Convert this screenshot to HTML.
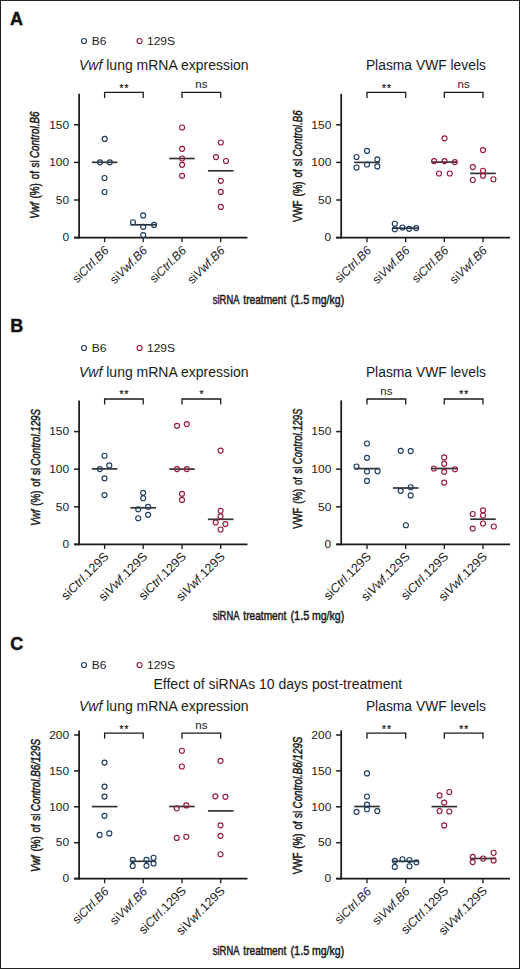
<!DOCTYPE html>
<html><head><meta charset="utf-8"><title>Figure</title>
<style>
html,body{margin:0;padding:0;background:#fff;}
body{width:520px;height:969px;overflow:hidden;}
svg{display:block;font-family:"Liberation Sans", sans-serif;}
</style></head><body>
<svg width="520" height="969" viewBox="0 0 520 969" font-family="'Liberation Sans', sans-serif">
<rect x="0.5" y="0.5" width="519" height="968" fill="#fff" stroke="#222" stroke-width="1"/>
<text x="10" y="25" font-size="18" font-weight="bold" fill="#111" stroke="#111" stroke-width="0.45">A</text>
<text x="10.3" y="332.1" font-size="18" font-weight="bold" fill="#111" stroke="#111" stroke-width="0.45">B</text>
<text x="10.3" y="649.6" font-size="18" font-weight="bold" fill="#111" stroke="#111" stroke-width="0.45">C</text>
<circle cx="84" cy="41" r="2.5" fill="none" stroke="#1c3c60" stroke-width="1.15"/>
<text x="91.7" y="44.7" font-size="11.4" fill="#1a1a1a" textLength="14.64" lengthAdjust="spacingAndGlyphs">B6</text>
<circle cx="139.6" cy="41" r="2.5" fill="none" stroke="#961b3a" stroke-width="1.15"/>
<text x="147" y="44.7" font-size="11.4" fill="#1a1a1a" textLength="27.96" lengthAdjust="spacingAndGlyphs">129S</text>
<text x="79.0" y="70.2" font-size="14" fill="#1a1a1a"><tspan font-style="italic">Vwf</tspan> lung mRNA expression</text>
<text x="365.9" y="70.2" font-size="13.85" fill="#1a1a1a">Plasma VWF levels</text>
<line x1="79.1" y1="93.8" x2="79.1" y2="238.5" stroke="#1a1a1a" stroke-width="1.75"/>
<line x1="74.1" y1="237.6" x2="79.1" y2="237.6" stroke="#1a1a1a" stroke-width="1.5"/>
<text x="69.20" y="241.30" font-size="11.4" text-anchor="end" fill="#1a1a1a" textLength="6.66" lengthAdjust="spacingAndGlyphs">0</text>
<line x1="74.1" y1="200.0" x2="79.1" y2="200.0" stroke="#1a1a1a" stroke-width="1.5"/>
<text x="69.20" y="203.70" font-size="11.4" text-anchor="end" fill="#1a1a1a" textLength="13.31" lengthAdjust="spacingAndGlyphs">50</text>
<line x1="74.1" y1="162.39999999999998" x2="79.1" y2="162.39999999999998" stroke="#1a1a1a" stroke-width="1.5"/>
<text x="69.20" y="166.10" font-size="11.4" text-anchor="end" fill="#1a1a1a" textLength="19.97" lengthAdjust="spacingAndGlyphs">100</text>
<line x1="74.1" y1="124.79999999999998" x2="79.1" y2="124.79999999999998" stroke="#1a1a1a" stroke-width="1.5"/>
<text x="69.20" y="128.50" font-size="11.4" text-anchor="end" fill="#1a1a1a" textLength="19.97" lengthAdjust="spacingAndGlyphs">150</text>
<line x1="74.1" y1="237.6" x2="247.5" y2="237.6" stroke="#1a1a1a" stroke-width="1.75"/>
<line x1="104.6" y1="237.6" x2="104.6" y2="242.2" stroke="#1a1a1a" stroke-width="1.3"/>
<line x1="143.2" y1="237.6" x2="143.2" y2="242.2" stroke="#1a1a1a" stroke-width="1.3"/>
<line x1="182.0" y1="237.6" x2="182.0" y2="242.2" stroke="#1a1a1a" stroke-width="1.3"/>
<line x1="220.7" y1="237.6" x2="220.7" y2="242.2" stroke="#1a1a1a" stroke-width="1.3"/>
<line x1="91.8" y1="162.3" x2="117.39999999999999" y2="162.3" stroke="#333" stroke-width="1.7"/>
<line x1="130.39999999999998" y1="224.8" x2="156.0" y2="224.8" stroke="#333" stroke-width="1.7"/>
<line x1="169.2" y1="158.5" x2="194.8" y2="158.5" stroke="#333" stroke-width="1.7"/>
<line x1="207.89999999999998" y1="170.8" x2="233.5" y2="170.8" stroke="#333" stroke-width="1.7"/>
<circle cx="104.7" cy="138.9" r="2.5" fill="none" stroke="#1c3c60" stroke-width="1.15"/>
<circle cx="100" cy="162.3" r="2.5" fill="none" stroke="#1c3c60" stroke-width="1.15"/>
<circle cx="109.8" cy="162.3" r="2.5" fill="none" stroke="#1c3c60" stroke-width="1.15"/>
<circle cx="104.5" cy="178" r="2.5" fill="none" stroke="#1c3c60" stroke-width="1.15"/>
<circle cx="104.5" cy="192" r="2.5" fill="none" stroke="#1c3c60" stroke-width="1.15"/>
<circle cx="143.2" cy="215.4" r="2.5" fill="none" stroke="#1c3c60" stroke-width="1.15"/>
<circle cx="133" cy="222.2" r="2.5" fill="none" stroke="#1c3c60" stroke-width="1.15"/>
<circle cx="143.2" cy="226.8" r="2.5" fill="none" stroke="#1c3c60" stroke-width="1.15"/>
<circle cx="154.1" cy="224.9" r="2.5" fill="none" stroke="#1c3c60" stroke-width="1.15"/>
<circle cx="143.2" cy="235.1" r="2.5" fill="none" stroke="#1c3c60" stroke-width="1.15"/>
<circle cx="182.1" cy="127.5" r="2.5" fill="none" stroke="#961b3a" stroke-width="1.15"/>
<circle cx="182.1" cy="148.8" r="2.5" fill="none" stroke="#961b3a" stroke-width="1.15"/>
<circle cx="182.1" cy="158.5" r="2.5" fill="none" stroke="#961b3a" stroke-width="1.15"/>
<circle cx="182.1" cy="164.8" r="2.5" fill="none" stroke="#961b3a" stroke-width="1.15"/>
<circle cx="182.1" cy="175.8" r="2.5" fill="none" stroke="#961b3a" stroke-width="1.15"/>
<circle cx="220.8" cy="142.5" r="2.5" fill="none" stroke="#961b3a" stroke-width="1.15"/>
<circle cx="216" cy="157.1" r="2.5" fill="none" stroke="#961b3a" stroke-width="1.15"/>
<circle cx="226" cy="161" r="2.5" fill="none" stroke="#961b3a" stroke-width="1.15"/>
<circle cx="220.8" cy="180.8" r="2.5" fill="none" stroke="#961b3a" stroke-width="1.15"/>
<circle cx="220.8" cy="191.9" r="2.5" fill="none" stroke="#961b3a" stroke-width="1.15"/>
<circle cx="220.8" cy="206.9" r="2.5" fill="none" stroke="#961b3a" stroke-width="1.15"/>
<path d="M104.6,97.89999999999999 V92.3 H143.2 V97.89999999999999" fill="none" stroke="#1a1a1a" stroke-width="1.3" stroke-linejoin="miter" stroke-linecap="butt"/>
<text x="124.44999999999999" y="91.6" font-size="10" text-anchor="middle" fill="#1a1a1a" stroke="#1a1a1a" stroke-width="0.25" letter-spacing="1.1">**</text>
<path d="M182.0,97.89999999999999 V92.3 H220.7 V97.89999999999999" fill="none" stroke="#1a1a1a" stroke-width="1.3" stroke-linejoin="miter" stroke-linecap="butt"/>
<text x="201.35" y="88.0" font-size="11.5" text-anchor="middle" fill="#1a1a1a">ns</text>
<text x="109.5" y="251.29999999999998" font-size="12.1" text-anchor="end" fill="#1a1a1a" transform="rotate(-45 109.5 251.29999999999998)">si<tspan font-style="italic">Ctrl.B6</tspan></text>
<text x="148.1" y="251.29999999999998" font-size="12.1" text-anchor="end" fill="#1a1a1a" transform="rotate(-45 148.1 251.29999999999998)">si<tspan font-style="italic">Vwf.B6</tspan></text>
<text x="186.9" y="251.29999999999998" font-size="12.1" text-anchor="end" fill="#1a1a1a" transform="rotate(-45 186.9 251.29999999999998)">si<tspan font-style="italic">Ctrl.B6</tspan></text>
<text x="225.6" y="251.29999999999998" font-size="12.1" text-anchor="end" fill="#1a1a1a" transform="rotate(-45 225.6 251.29999999999998)">si<tspan font-style="italic">Vwf.B6</tspan></text>
<g transform="translate(39.4 218.8) rotate(-90)" fill="#1a1a1a"><text x="0.00" y="0" font-size="13.4" font-style="italic" textLength="16.44" lengthAdjust="spacingAndGlyphs" stroke="#1a1a1a" stroke-width="0.5">Vwf</text><text x="20.34" y="0" font-size="13.4" textLength="15.33" lengthAdjust="spacingAndGlyphs" stroke="#1a1a1a" stroke-width="0.5">(%)</text><text x="39.57" y="0" font-size="13.4" textLength="8.22" lengthAdjust="spacingAndGlyphs" stroke="#1a1a1a" stroke-width="0.5">of</text><text x="51.29" y="0" font-size="13.4" textLength="7.12" lengthAdjust="spacingAndGlyphs" stroke="#1a1a1a" stroke-width="0.5">si</text><text x="60.81" y="0" font-size="13.4" font-style="italic" textLength="46.59" lengthAdjust="spacingAndGlyphs" stroke="#1a1a1a" stroke-width="0.5">Control.B6</text></g>
<line x1="341.2" y1="93.8" x2="341.2" y2="238.5" stroke="#1a1a1a" stroke-width="1.75"/>
<line x1="336.2" y1="237.6" x2="341.2" y2="237.6" stroke="#1a1a1a" stroke-width="1.5"/>
<text x="331.30" y="241.30" font-size="11.4" text-anchor="end" fill="#1a1a1a" textLength="6.66" lengthAdjust="spacingAndGlyphs">0</text>
<line x1="336.2" y1="200.0" x2="341.2" y2="200.0" stroke="#1a1a1a" stroke-width="1.5"/>
<text x="331.30" y="203.70" font-size="11.4" text-anchor="end" fill="#1a1a1a" textLength="13.31" lengthAdjust="spacingAndGlyphs">50</text>
<line x1="336.2" y1="162.39999999999998" x2="341.2" y2="162.39999999999998" stroke="#1a1a1a" stroke-width="1.5"/>
<text x="331.30" y="166.10" font-size="11.4" text-anchor="end" fill="#1a1a1a" textLength="19.97" lengthAdjust="spacingAndGlyphs">100</text>
<line x1="336.2" y1="124.79999999999998" x2="341.2" y2="124.79999999999998" stroke="#1a1a1a" stroke-width="1.5"/>
<text x="331.30" y="128.50" font-size="11.4" text-anchor="end" fill="#1a1a1a" textLength="19.97" lengthAdjust="spacingAndGlyphs">150</text>
<line x1="336.2" y1="237.6" x2="510" y2="237.6" stroke="#1a1a1a" stroke-width="1.75"/>
<line x1="367.0" y1="237.6" x2="367.0" y2="242.2" stroke="#1a1a1a" stroke-width="1.3"/>
<line x1="405.7" y1="237.6" x2="405.7" y2="242.2" stroke="#1a1a1a" stroke-width="1.3"/>
<line x1="444.3" y1="237.6" x2="444.3" y2="242.2" stroke="#1a1a1a" stroke-width="1.3"/>
<line x1="483.0" y1="237.6" x2="483.0" y2="242.2" stroke="#1a1a1a" stroke-width="1.3"/>
<line x1="354.2" y1="162.4" x2="379.8" y2="162.4" stroke="#333" stroke-width="1.7"/>
<line x1="392.9" y1="228.2" x2="418.5" y2="228.2" stroke="#333" stroke-width="1.7"/>
<line x1="431.5" y1="162.1" x2="457.1" y2="162.1" stroke="#333" stroke-width="1.7"/>
<line x1="470.2" y1="173.4" x2="495.8" y2="173.4" stroke="#333" stroke-width="1.7"/>
<circle cx="367.0" cy="150.9" r="2.5" fill="none" stroke="#1c3c60" stroke-width="1.15"/>
<circle cx="356.5" cy="157.0" r="2.5" fill="none" stroke="#1c3c60" stroke-width="1.15"/>
<circle cx="377.3" cy="159.3" r="2.5" fill="none" stroke="#1c3c60" stroke-width="1.15"/>
<circle cx="367.0" cy="164.5" r="2.5" fill="none" stroke="#1c3c60" stroke-width="1.15"/>
<circle cx="356.5" cy="167.5" r="2.5" fill="none" stroke="#1c3c60" stroke-width="1.15"/>
<circle cx="377.3" cy="166.4" r="2.5" fill="none" stroke="#1c3c60" stroke-width="1.15"/>
<circle cx="394.8" cy="223.7" r="2.5" fill="none" stroke="#1c3c60" stroke-width="1.15"/>
<circle cx="394.8" cy="229.2" r="2.5" fill="none" stroke="#1c3c60" stroke-width="1.15"/>
<circle cx="402.5" cy="227.5" r="2.5" fill="none" stroke="#1c3c60" stroke-width="1.15"/>
<circle cx="409.1" cy="228.8" r="2.5" fill="none" stroke="#1c3c60" stroke-width="1.15"/>
<circle cx="416.2" cy="228.1" r="2.5" fill="none" stroke="#1c3c60" stroke-width="1.15"/>
<circle cx="444.5" cy="138.3" r="2.5" fill="none" stroke="#961b3a" stroke-width="1.15"/>
<circle cx="434.1" cy="161.1" r="2.5" fill="none" stroke="#961b3a" stroke-width="1.15"/>
<circle cx="444.5" cy="161.1" r="2.5" fill="none" stroke="#961b3a" stroke-width="1.15"/>
<circle cx="454.8" cy="162.1" r="2.5" fill="none" stroke="#961b3a" stroke-width="1.15"/>
<circle cx="439.0" cy="173.5" r="2.5" fill="none" stroke="#961b3a" stroke-width="1.15"/>
<circle cx="449.8" cy="173.5" r="2.5" fill="none" stroke="#961b3a" stroke-width="1.15"/>
<circle cx="483.0" cy="150.1" r="2.5" fill="none" stroke="#961b3a" stroke-width="1.15"/>
<circle cx="472.8" cy="167.1" r="2.5" fill="none" stroke="#961b3a" stroke-width="1.15"/>
<circle cx="483.0" cy="170.7" r="2.5" fill="none" stroke="#961b3a" stroke-width="1.15"/>
<circle cx="483.0" cy="175.8" r="2.5" fill="none" stroke="#961b3a" stroke-width="1.15"/>
<circle cx="472.8" cy="180" r="2.5" fill="none" stroke="#961b3a" stroke-width="1.15"/>
<circle cx="493.4" cy="179.2" r="2.5" fill="none" stroke="#961b3a" stroke-width="1.15"/>
<path d="M367.0,97.89999999999999 V92.3 H405.7 V97.89999999999999" fill="none" stroke="#1a1a1a" stroke-width="1.3" stroke-linejoin="miter" stroke-linecap="butt"/>
<text x="386.90000000000003" y="91.6" font-size="10" text-anchor="middle" fill="#1a1a1a" stroke="#1a1a1a" stroke-width="0.25" letter-spacing="1.1">**</text>
<path d="M444.3,97.89999999999999 V92.3 H483.0 V97.89999999999999" fill="none" stroke="#1a1a1a" stroke-width="1.3" stroke-linejoin="miter" stroke-linecap="butt"/>
<text x="463.65" y="88.0" font-size="11.5" text-anchor="middle" fill="#1a1a1a">ns</text>
<text x="371.9" y="251.29999999999998" font-size="12.1" text-anchor="end" fill="#1a1a1a" transform="rotate(-45 371.9 251.29999999999998)">si<tspan font-style="italic">Ctrl.B6</tspan></text>
<text x="410.59999999999997" y="251.29999999999998" font-size="12.1" text-anchor="end" fill="#1a1a1a" transform="rotate(-45 410.59999999999997 251.29999999999998)">si<tspan font-style="italic">Vwf.B6</tspan></text>
<text x="449.2" y="251.29999999999998" font-size="12.1" text-anchor="end" fill="#1a1a1a" transform="rotate(-45 449.2 251.29999999999998)">si<tspan font-style="italic">Ctrl.B6</tspan></text>
<text x="487.9" y="251.29999999999998" font-size="12.1" text-anchor="end" fill="#1a1a1a" transform="rotate(-45 487.9 251.29999999999998)">si<tspan font-style="italic">Vwf.B6</tspan></text>
<g transform="translate(301.8 222.1) rotate(-90)" fill="#1a1a1a"><text x="0.00" y="0" font-size="13.4" textLength="21.65" lengthAdjust="spacingAndGlyphs" stroke="#1a1a1a" stroke-width="0.5">VWF</text><text x="25.55" y="0" font-size="13.4" textLength="15.15" lengthAdjust="spacingAndGlyphs" stroke="#1a1a1a" stroke-width="0.5">(%)</text><text x="44.60" y="0" font-size="13.4" textLength="8.13" lengthAdjust="spacingAndGlyphs" stroke="#1a1a1a" stroke-width="0.5">of</text><text x="56.23" y="0" font-size="13.4" textLength="7.04" lengthAdjust="spacingAndGlyphs" stroke="#1a1a1a" stroke-width="0.5">si</text><text x="65.66" y="0" font-size="13.4" font-style="italic" textLength="46.04" lengthAdjust="spacingAndGlyphs" stroke="#1a1a1a" stroke-width="0.5">Control.B6</text></g>
<g fill="#1a1a1a"><text x="212.85" y="303.5" font-size="13.3" textLength="26.60" lengthAdjust="spacingAndGlyphs" stroke="#1a1a1a" stroke-width="0.5">siRNA</text><text x="243.35" y="303.5" font-size="13.3" textLength="42.90" lengthAdjust="spacingAndGlyphs" stroke="#1a1a1a" stroke-width="0.5">treatment</text><text x="290.45" y="303.5" font-size="13.3" textLength="19.00" lengthAdjust="spacingAndGlyphs" stroke="#1a1a1a" stroke-width="0.5">(1.5</text><text x="311.95" y="303.5" font-size="13.3" textLength="32.20" lengthAdjust="spacingAndGlyphs" stroke="#1a1a1a" stroke-width="0.5">mg/kg)</text></g>
<circle cx="84" cy="348" r="2.5" fill="none" stroke="#1c3c60" stroke-width="1.15"/>
<text x="91.7" y="351.7" font-size="11.4" fill="#1a1a1a" textLength="14.64" lengthAdjust="spacingAndGlyphs">B6</text>
<circle cx="139.6" cy="348" r="2.5" fill="none" stroke="#961b3a" stroke-width="1.15"/>
<text x="147" y="351.7" font-size="11.4" fill="#1a1a1a" textLength="27.96" lengthAdjust="spacingAndGlyphs">129S</text>
<text x="79.0" y="377.2" font-size="14" fill="#1a1a1a"><tspan font-style="italic">Vwf</tspan> lung mRNA expression</text>
<text x="365.9" y="377.2" font-size="13.85" fill="#1a1a1a">Plasma VWF levels</text>
<line x1="79.1" y1="400.4" x2="79.1" y2="545.3" stroke="#1a1a1a" stroke-width="1.75"/>
<line x1="74.1" y1="544.4" x2="79.1" y2="544.4" stroke="#1a1a1a" stroke-width="1.5"/>
<text x="69.20" y="548.10" font-size="11.4" text-anchor="end" fill="#1a1a1a" textLength="6.66" lengthAdjust="spacingAndGlyphs">0</text>
<line x1="74.1" y1="506.79999999999995" x2="79.1" y2="506.79999999999995" stroke="#1a1a1a" stroke-width="1.5"/>
<text x="69.20" y="510.50" font-size="11.4" text-anchor="end" fill="#1a1a1a" textLength="13.31" lengthAdjust="spacingAndGlyphs">50</text>
<line x1="74.1" y1="469.2" x2="79.1" y2="469.2" stroke="#1a1a1a" stroke-width="1.5"/>
<text x="69.20" y="472.90" font-size="11.4" text-anchor="end" fill="#1a1a1a" textLength="19.97" lengthAdjust="spacingAndGlyphs">100</text>
<line x1="74.1" y1="431.59999999999997" x2="79.1" y2="431.59999999999997" stroke="#1a1a1a" stroke-width="1.5"/>
<text x="69.20" y="435.30" font-size="11.4" text-anchor="end" fill="#1a1a1a" textLength="19.97" lengthAdjust="spacingAndGlyphs">150</text>
<line x1="74.1" y1="544.4" x2="247.5" y2="544.4" stroke="#1a1a1a" stroke-width="1.75"/>
<line x1="104.6" y1="544.4" x2="104.6" y2="549.0" stroke="#1a1a1a" stroke-width="1.3"/>
<line x1="143.2" y1="544.4" x2="143.2" y2="549.0" stroke="#1a1a1a" stroke-width="1.3"/>
<line x1="182.0" y1="544.4" x2="182.0" y2="549.0" stroke="#1a1a1a" stroke-width="1.3"/>
<line x1="220.7" y1="544.4" x2="220.7" y2="549.0" stroke="#1a1a1a" stroke-width="1.3"/>
<line x1="91.8" y1="468.9" x2="117.39999999999999" y2="468.9" stroke="#333" stroke-width="1.7"/>
<line x1="130.39999999999998" y1="507.8" x2="156.0" y2="507.8" stroke="#333" stroke-width="1.7"/>
<line x1="169.2" y1="469.1" x2="194.8" y2="469.1" stroke="#333" stroke-width="1.7"/>
<line x1="207.89999999999998" y1="519.3" x2="233.5" y2="519.3" stroke="#333" stroke-width="1.7"/>
<circle cx="104.5" cy="455.7" r="2.5" fill="none" stroke="#1c3c60" stroke-width="1.15"/>
<circle cx="109.3" cy="465.4" r="2.5" fill="none" stroke="#1c3c60" stroke-width="1.15"/>
<circle cx="99.8" cy="469.1" r="2.5" fill="none" stroke="#1c3c60" stroke-width="1.15"/>
<circle cx="104.5" cy="478.3" r="2.5" fill="none" stroke="#1c3c60" stroke-width="1.15"/>
<circle cx="104.5" cy="495.1" r="2.5" fill="none" stroke="#1c3c60" stroke-width="1.15"/>
<circle cx="143.2" cy="492.8" r="2.5" fill="none" stroke="#1c3c60" stroke-width="1.15"/>
<circle cx="143.2" cy="498.2" r="2.5" fill="none" stroke="#1c3c60" stroke-width="1.15"/>
<circle cx="148.1" cy="506.9" r="2.5" fill="none" stroke="#1c3c60" stroke-width="1.15"/>
<circle cx="138.2" cy="509.2" r="2.5" fill="none" stroke="#1c3c60" stroke-width="1.15"/>
<circle cx="148.1" cy="514.8" r="2.5" fill="none" stroke="#1c3c60" stroke-width="1.15"/>
<circle cx="138.2" cy="518.2" r="2.5" fill="none" stroke="#1c3c60" stroke-width="1.15"/>
<circle cx="177.0" cy="425.8" r="2.5" fill="none" stroke="#961b3a" stroke-width="1.15"/>
<circle cx="186.8" cy="424.1" r="2.5" fill="none" stroke="#961b3a" stroke-width="1.15"/>
<circle cx="177.0" cy="469.1" r="2.5" fill="none" stroke="#961b3a" stroke-width="1.15"/>
<circle cx="186.8" cy="469.1" r="2.5" fill="none" stroke="#961b3a" stroke-width="1.15"/>
<circle cx="182.0" cy="493.8" r="2.5" fill="none" stroke="#961b3a" stroke-width="1.15"/>
<circle cx="182.0" cy="499.9" r="2.5" fill="none" stroke="#961b3a" stroke-width="1.15"/>
<circle cx="220.6" cy="450.6" r="2.5" fill="none" stroke="#961b3a" stroke-width="1.15"/>
<circle cx="220.6" cy="510.8" r="2.5" fill="none" stroke="#961b3a" stroke-width="1.15"/>
<circle cx="220.6" cy="516.3" r="2.5" fill="none" stroke="#961b3a" stroke-width="1.15"/>
<circle cx="215.7" cy="522.4" r="2.5" fill="none" stroke="#961b3a" stroke-width="1.15"/>
<circle cx="225.4" cy="524.1" r="2.5" fill="none" stroke="#961b3a" stroke-width="1.15"/>
<circle cx="220.6" cy="529.5" r="2.5" fill="none" stroke="#961b3a" stroke-width="1.15"/>
<path d="M104.6,404.6 V399.0 H143.2 V404.6" fill="none" stroke="#1a1a1a" stroke-width="1.3" stroke-linejoin="miter" stroke-linecap="butt"/>
<text x="124.44999999999999" y="398.3" font-size="10" text-anchor="middle" fill="#1a1a1a" stroke="#1a1a1a" stroke-width="0.25" letter-spacing="1.1">**</text>
<path d="M182.0,404.6 V399.0 H220.7 V404.6" fill="none" stroke="#1a1a1a" stroke-width="1.3" stroke-linejoin="miter" stroke-linecap="butt"/>
<text x="201.9" y="398.3" font-size="10" text-anchor="middle" fill="#1a1a1a" stroke="#1a1a1a" stroke-width="0.25" letter-spacing="1.1">*</text>
<text x="109.5" y="557.4" font-size="12.5" text-anchor="end" fill="#1a1a1a" transform="rotate(-45 109.5 557.4)">si<tspan font-style="italic">Ctrl</tspan>.129S</text>
<text x="148.1" y="557.4" font-size="12.5" text-anchor="end" fill="#1a1a1a" transform="rotate(-45 148.1 557.4)">si<tspan font-style="italic">Vwf</tspan>.129S</text>
<text x="186.9" y="557.4" font-size="12.5" text-anchor="end" fill="#1a1a1a" transform="rotate(-45 186.9 557.4)">si<tspan font-style="italic">Ctrl</tspan>.129S</text>
<text x="225.6" y="557.4" font-size="12.5" text-anchor="end" fill="#1a1a1a" transform="rotate(-45 225.6 557.4)">si<tspan font-style="italic">Vwf</tspan>.129S</text>
<g transform="translate(39.7 525.7) rotate(-90)" fill="#1a1a1a"><text x="0.00" y="0" font-size="13.4" font-style="italic" textLength="16.17" lengthAdjust="spacingAndGlyphs" stroke="#1a1a1a" stroke-width="0.5">Vwf</text><text x="20.07" y="0" font-size="13.4" textLength="15.09" lengthAdjust="spacingAndGlyphs" stroke="#1a1a1a" stroke-width="0.5">(%)</text><text x="39.06" y="0" font-size="13.4" textLength="8.09" lengthAdjust="spacingAndGlyphs" stroke="#1a1a1a" stroke-width="0.5">of</text><text x="50.66" y="0" font-size="13.4" textLength="7.01" lengthAdjust="spacingAndGlyphs" stroke="#1a1a1a" stroke-width="0.5">si</text><text x="60.06" y="0" font-size="13.4" font-style="italic" textLength="56.64" lengthAdjust="spacingAndGlyphs" stroke="#1a1a1a" stroke-width="0.5">Control.129S</text></g>
<line x1="341.2" y1="400.4" x2="341.2" y2="545.3" stroke="#1a1a1a" stroke-width="1.75"/>
<line x1="336.2" y1="544.4" x2="341.2" y2="544.4" stroke="#1a1a1a" stroke-width="1.5"/>
<text x="331.30" y="548.10" font-size="11.4" text-anchor="end" fill="#1a1a1a" textLength="6.66" lengthAdjust="spacingAndGlyphs">0</text>
<line x1="336.2" y1="506.79999999999995" x2="341.2" y2="506.79999999999995" stroke="#1a1a1a" stroke-width="1.5"/>
<text x="331.30" y="510.50" font-size="11.4" text-anchor="end" fill="#1a1a1a" textLength="13.31" lengthAdjust="spacingAndGlyphs">50</text>
<line x1="336.2" y1="469.2" x2="341.2" y2="469.2" stroke="#1a1a1a" stroke-width="1.5"/>
<text x="331.30" y="472.90" font-size="11.4" text-anchor="end" fill="#1a1a1a" textLength="19.97" lengthAdjust="spacingAndGlyphs">100</text>
<line x1="336.2" y1="431.59999999999997" x2="341.2" y2="431.59999999999997" stroke="#1a1a1a" stroke-width="1.5"/>
<text x="331.30" y="435.30" font-size="11.4" text-anchor="end" fill="#1a1a1a" textLength="19.97" lengthAdjust="spacingAndGlyphs">150</text>
<line x1="336.2" y1="544.4" x2="510" y2="544.4" stroke="#1a1a1a" stroke-width="1.75"/>
<line x1="367.0" y1="544.4" x2="367.0" y2="549.0" stroke="#1a1a1a" stroke-width="1.3"/>
<line x1="405.7" y1="544.4" x2="405.7" y2="549.0" stroke="#1a1a1a" stroke-width="1.3"/>
<line x1="444.3" y1="544.4" x2="444.3" y2="549.0" stroke="#1a1a1a" stroke-width="1.3"/>
<line x1="483.0" y1="544.4" x2="483.0" y2="549.0" stroke="#1a1a1a" stroke-width="1.3"/>
<line x1="354.2" y1="468.6" x2="379.8" y2="468.6" stroke="#333" stroke-width="1.7"/>
<line x1="392.9" y1="488" x2="418.5" y2="488" stroke="#333" stroke-width="1.7"/>
<line x1="431.5" y1="468.5" x2="457.1" y2="468.5" stroke="#333" stroke-width="1.7"/>
<line x1="470.2" y1="519.2" x2="495.8" y2="519.2" stroke="#333" stroke-width="1.7"/>
<circle cx="367" cy="443.5" r="2.5" fill="none" stroke="#1c3c60" stroke-width="1.15"/>
<circle cx="367" cy="457.8" r="2.5" fill="none" stroke="#1c3c60" stroke-width="1.15"/>
<circle cx="356.5" cy="466.5" r="2.5" fill="none" stroke="#1c3c60" stroke-width="1.15"/>
<circle cx="367" cy="471.5" r="2.5" fill="none" stroke="#1c3c60" stroke-width="1.15"/>
<circle cx="377.6" cy="471.2" r="2.5" fill="none" stroke="#1c3c60" stroke-width="1.15"/>
<circle cx="367" cy="480.9" r="2.5" fill="none" stroke="#1c3c60" stroke-width="1.15"/>
<circle cx="400.7" cy="450.8" r="2.5" fill="none" stroke="#1c3c60" stroke-width="1.15"/>
<circle cx="410.7" cy="451.1" r="2.5" fill="none" stroke="#1c3c60" stroke-width="1.15"/>
<circle cx="410.7" cy="487.2" r="2.5" fill="none" stroke="#1c3c60" stroke-width="1.15"/>
<circle cx="400.7" cy="490.8" r="2.5" fill="none" stroke="#1c3c60" stroke-width="1.15"/>
<circle cx="410.7" cy="495.4" r="2.5" fill="none" stroke="#1c3c60" stroke-width="1.15"/>
<circle cx="405.9" cy="525.2" r="2.5" fill="none" stroke="#1c3c60" stroke-width="1.15"/>
<circle cx="444.2" cy="457.4" r="2.5" fill="none" stroke="#961b3a" stroke-width="1.15"/>
<circle cx="444.2" cy="463.8" r="2.5" fill="none" stroke="#961b3a" stroke-width="1.15"/>
<circle cx="433.9" cy="468.5" r="2.5" fill="none" stroke="#961b3a" stroke-width="1.15"/>
<circle cx="455" cy="469.2" r="2.5" fill="none" stroke="#961b3a" stroke-width="1.15"/>
<circle cx="444.2" cy="471.8" r="2.5" fill="none" stroke="#961b3a" stroke-width="1.15"/>
<circle cx="444.2" cy="482.6" r="2.5" fill="none" stroke="#961b3a" stroke-width="1.15"/>
<circle cx="483" cy="510.3" r="2.5" fill="none" stroke="#961b3a" stroke-width="1.15"/>
<circle cx="472.7" cy="514" r="2.5" fill="none" stroke="#961b3a" stroke-width="1.15"/>
<circle cx="483" cy="515.5" r="2.5" fill="none" stroke="#961b3a" stroke-width="1.15"/>
<circle cx="483" cy="523.5" r="2.5" fill="none" stroke="#961b3a" stroke-width="1.15"/>
<circle cx="493.8" cy="526.5" r="2.5" fill="none" stroke="#961b3a" stroke-width="1.15"/>
<circle cx="472.7" cy="528.6" r="2.5" fill="none" stroke="#961b3a" stroke-width="1.15"/>
<path d="M367.0,404.6 V399.0 H405.7 V404.6" fill="none" stroke="#1a1a1a" stroke-width="1.3" stroke-linejoin="miter" stroke-linecap="butt"/>
<text x="386.35" y="394.7" font-size="11.5" text-anchor="middle" fill="#1a1a1a">ns</text>
<path d="M444.3,404.6 V399.0 H483.0 V404.6" fill="none" stroke="#1a1a1a" stroke-width="1.3" stroke-linejoin="miter" stroke-linecap="butt"/>
<text x="464.2" y="398.3" font-size="10" text-anchor="middle" fill="#1a1a1a" stroke="#1a1a1a" stroke-width="0.25" letter-spacing="1.1">**</text>
<text x="371.9" y="557.4" font-size="12.5" text-anchor="end" fill="#1a1a1a" transform="rotate(-45 371.9 557.4)">si<tspan font-style="italic">Ctrl</tspan>.129S</text>
<text x="410.59999999999997" y="557.4" font-size="12.5" text-anchor="end" fill="#1a1a1a" transform="rotate(-45 410.59999999999997 557.4)">si<tspan font-style="italic">Vwf</tspan>.129S</text>
<text x="449.2" y="557.4" font-size="12.5" text-anchor="end" fill="#1a1a1a" transform="rotate(-45 449.2 557.4)">si<tspan font-style="italic">Ctrl</tspan>.129S</text>
<text x="487.9" y="557.4" font-size="12.5" text-anchor="end" fill="#1a1a1a" transform="rotate(-45 487.9 557.4)">si<tspan font-style="italic">Vwf</tspan>.129S</text>
<g transform="translate(302.2 528.8) rotate(-90)" fill="#1a1a1a"><text x="0.00" y="0" font-size="13.4" textLength="21.20" lengthAdjust="spacingAndGlyphs" stroke="#1a1a1a" stroke-width="0.5">VWF</text><text x="25.10" y="0" font-size="13.4" textLength="14.84" lengthAdjust="spacingAndGlyphs" stroke="#1a1a1a" stroke-width="0.5">(%)</text><text x="43.84" y="0" font-size="13.4" textLength="7.96" lengthAdjust="spacingAndGlyphs" stroke="#1a1a1a" stroke-width="0.5">of</text><text x="55.30" y="0" font-size="13.4" textLength="6.89" lengthAdjust="spacingAndGlyphs" stroke="#1a1a1a" stroke-width="0.5">si</text><text x="64.60" y="0" font-size="13.4" font-style="italic" textLength="55.70" lengthAdjust="spacingAndGlyphs" stroke="#1a1a1a" stroke-width="0.5">Control.129S</text></g>
<g fill="#1a1a1a"><text x="212.85" y="620.4" font-size="13.3" textLength="26.60" lengthAdjust="spacingAndGlyphs" stroke="#1a1a1a" stroke-width="0.5">siRNA</text><text x="243.35" y="620.4" font-size="13.3" textLength="42.90" lengthAdjust="spacingAndGlyphs" stroke="#1a1a1a" stroke-width="0.5">treatment</text><text x="290.45" y="620.4" font-size="13.3" textLength="19.00" lengthAdjust="spacingAndGlyphs" stroke="#1a1a1a" stroke-width="0.5">(1.5</text><text x="311.95" y="620.4" font-size="13.3" textLength="32.20" lengthAdjust="spacingAndGlyphs" stroke="#1a1a1a" stroke-width="0.5">mg/kg)</text></g>
<circle cx="84" cy="665" r="2.5" fill="none" stroke="#1c3c60" stroke-width="1.15"/>
<text x="91.7" y="668.7" font-size="11.4" fill="#1a1a1a" textLength="14.64" lengthAdjust="spacingAndGlyphs">B6</text>
<circle cx="139.6" cy="665" r="2.5" fill="none" stroke="#961b3a" stroke-width="1.15"/>
<text x="147" y="668.7" font-size="11.4" fill="#1a1a1a" textLength="27.96" lengthAdjust="spacingAndGlyphs">129S</text>
<text x="153.5" y="689.1" font-size="14" fill="#1a1a1a">Effect of siRNAs 10 days post-treatment</text>
<text x="79.0" y="711.0" font-size="14" fill="#1a1a1a"><tspan font-style="italic">Vwf</tspan> lung mRNA expression</text>
<text x="365.9" y="711.0" font-size="13.85" fill="#1a1a1a">Plasma VWF levels</text>
<line x1="79.1" y1="730.4" x2="79.1" y2="879.5" stroke="#1a1a1a" stroke-width="1.75"/>
<line x1="74.1" y1="878.6" x2="79.1" y2="878.6" stroke="#1a1a1a" stroke-width="1.5"/>
<text x="69.20" y="882.30" font-size="11.4" text-anchor="end" fill="#1a1a1a" textLength="6.66" lengthAdjust="spacingAndGlyphs">0</text>
<line x1="74.1" y1="842.7" x2="79.1" y2="842.7" stroke="#1a1a1a" stroke-width="1.5"/>
<text x="69.20" y="846.40" font-size="11.4" text-anchor="end" fill="#1a1a1a" textLength="13.31" lengthAdjust="spacingAndGlyphs">50</text>
<line x1="74.1" y1="806.8000000000001" x2="79.1" y2="806.8000000000001" stroke="#1a1a1a" stroke-width="1.5"/>
<text x="69.20" y="810.50" font-size="11.4" text-anchor="end" fill="#1a1a1a" textLength="19.97" lengthAdjust="spacingAndGlyphs">100</text>
<line x1="74.1" y1="770.9000000000001" x2="79.1" y2="770.9000000000001" stroke="#1a1a1a" stroke-width="1.5"/>
<text x="69.20" y="774.60" font-size="11.4" text-anchor="end" fill="#1a1a1a" textLength="19.97" lengthAdjust="spacingAndGlyphs">150</text>
<line x1="74.1" y1="735.0" x2="79.1" y2="735.0" stroke="#1a1a1a" stroke-width="1.5"/>
<text x="69.20" y="738.70" font-size="11.4" text-anchor="end" fill="#1a1a1a" textLength="19.97" lengthAdjust="spacingAndGlyphs">200</text>
<line x1="74.1" y1="878.6" x2="247.5" y2="878.6" stroke="#1a1a1a" stroke-width="1.75"/>
<line x1="104.6" y1="878.6" x2="104.6" y2="883.2" stroke="#1a1a1a" stroke-width="1.3"/>
<line x1="143.2" y1="878.6" x2="143.2" y2="883.2" stroke="#1a1a1a" stroke-width="1.3"/>
<line x1="182.0" y1="878.6" x2="182.0" y2="883.2" stroke="#1a1a1a" stroke-width="1.3"/>
<line x1="220.7" y1="878.6" x2="220.7" y2="883.2" stroke="#1a1a1a" stroke-width="1.3"/>
<line x1="91.8" y1="806.6" x2="117.39999999999999" y2="806.6" stroke="#333" stroke-width="1.7"/>
<line x1="130.39999999999998" y1="861.3" x2="156.0" y2="861.3" stroke="#333" stroke-width="1.7"/>
<line x1="169.2" y1="806.5" x2="194.8" y2="806.5" stroke="#333" stroke-width="1.7"/>
<line x1="207.89999999999998" y1="810.9" x2="233.5" y2="810.9" stroke="#333" stroke-width="1.7"/>
<circle cx="104.5" cy="762.6" r="2.5" fill="none" stroke="#1c3c60" stroke-width="1.15"/>
<circle cx="104.5" cy="786.6" r="2.5" fill="none" stroke="#1c3c60" stroke-width="1.15"/>
<circle cx="104.5" cy="796.6" r="2.5" fill="none" stroke="#1c3c60" stroke-width="1.15"/>
<circle cx="104.5" cy="815.8" r="2.5" fill="none" stroke="#1c3c60" stroke-width="1.15"/>
<circle cx="99.6" cy="834.9" r="2.5" fill="none" stroke="#1c3c60" stroke-width="1.15"/>
<circle cx="109.3" cy="833.4" r="2.5" fill="none" stroke="#1c3c60" stroke-width="1.15"/>
<circle cx="132.7" cy="859.8" r="2.5" fill="none" stroke="#1c3c60" stroke-width="1.15"/>
<circle cx="132.7" cy="865.9" r="2.5" fill="none" stroke="#1c3c60" stroke-width="1.15"/>
<circle cx="146.5" cy="859.8" r="2.5" fill="none" stroke="#1c3c60" stroke-width="1.15"/>
<circle cx="146.5" cy="865.8" r="2.5" fill="none" stroke="#1c3c60" stroke-width="1.15"/>
<circle cx="153.6" cy="857.7" r="2.5" fill="none" stroke="#1c3c60" stroke-width="1.15"/>
<circle cx="153.6" cy="863.5" r="2.5" fill="none" stroke="#1c3c60" stroke-width="1.15"/>
<circle cx="181.9" cy="750.7" r="2.5" fill="none" stroke="#961b3a" stroke-width="1.15"/>
<circle cx="181.9" cy="766.5" r="2.5" fill="none" stroke="#961b3a" stroke-width="1.15"/>
<circle cx="176.7" cy="808.2" r="2.5" fill="none" stroke="#961b3a" stroke-width="1.15"/>
<circle cx="186.3" cy="805.4" r="2.5" fill="none" stroke="#961b3a" stroke-width="1.15"/>
<circle cx="176.7" cy="837.9" r="2.5" fill="none" stroke="#961b3a" stroke-width="1.15"/>
<circle cx="186.3" cy="836.7" r="2.5" fill="none" stroke="#961b3a" stroke-width="1.15"/>
<circle cx="220.5" cy="760.9" r="2.5" fill="none" stroke="#961b3a" stroke-width="1.15"/>
<circle cx="215.4" cy="796.3" r="2.5" fill="none" stroke="#961b3a" stroke-width="1.15"/>
<circle cx="225.4" cy="796.8" r="2.5" fill="none" stroke="#961b3a" stroke-width="1.15"/>
<circle cx="220.5" cy="825.3" r="2.5" fill="none" stroke="#961b3a" stroke-width="1.15"/>
<circle cx="220.5" cy="835.8" r="2.5" fill="none" stroke="#961b3a" stroke-width="1.15"/>
<circle cx="220.5" cy="854.2" r="2.5" fill="none" stroke="#961b3a" stroke-width="1.15"/>
<path d="M104.6,738.8000000000001 V733.2 H143.2 V738.8000000000001" fill="none" stroke="#1a1a1a" stroke-width="1.3" stroke-linejoin="miter" stroke-linecap="butt"/>
<text x="124.44999999999999" y="732.5" font-size="10" text-anchor="middle" fill="#1a1a1a" stroke="#1a1a1a" stroke-width="0.25" letter-spacing="1.1">**</text>
<path d="M182.0,738.8000000000001 V733.2 H220.7 V738.8000000000001" fill="none" stroke="#1a1a1a" stroke-width="1.3" stroke-linejoin="miter" stroke-linecap="butt"/>
<text x="201.35" y="728.9000000000001" font-size="11.5" text-anchor="middle" fill="#1a1a1a">ns</text>
<text x="109.5" y="892.3000000000001" font-size="12.1" text-anchor="end" fill="#1a1a1a" transform="rotate(-45 109.5 892.3000000000001)">si<tspan font-style="italic">Ctrl.B6</tspan></text>
<text x="148.1" y="892.3000000000001" font-size="12.1" text-anchor="end" fill="#1a1a1a" transform="rotate(-45 148.1 892.3000000000001)">si<tspan font-style="italic">Vwf.B6</tspan></text>
<text x="186.9" y="891.6" font-size="12.5" text-anchor="end" fill="#1a1a1a" transform="rotate(-45 186.9 891.6)">si<tspan font-style="italic">Ctrl</tspan>.129S</text>
<text x="225.6" y="891.6" font-size="12.5" text-anchor="end" fill="#1a1a1a" transform="rotate(-45 225.6 891.6)">si<tspan font-style="italic">Vwf</tspan>.129S</text>
<g transform="translate(40.4 871.9) rotate(-90)" fill="#1a1a1a"><text x="0.00" y="0" font-size="13.4" font-style="italic" textLength="16.40" lengthAdjust="spacingAndGlyphs" stroke="#1a1a1a" stroke-width="0.5">Vwf</text><text x="20.30" y="0" font-size="13.4" textLength="15.30" lengthAdjust="spacingAndGlyphs" stroke="#1a1a1a" stroke-width="0.5">(%)</text><text x="39.50" y="0" font-size="13.4" textLength="8.20" lengthAdjust="spacingAndGlyphs" stroke="#1a1a1a" stroke-width="0.5">of</text><text x="51.20" y="0" font-size="13.4" textLength="7.10" lengthAdjust="spacingAndGlyphs" stroke="#1a1a1a" stroke-width="0.5">si</text><text x="60.71" y="0" font-size="13.4" font-style="italic" textLength="72.19" lengthAdjust="spacingAndGlyphs" stroke="#1a1a1a" stroke-width="0.5">Control.B6/129S</text></g>
<line x1="341.2" y1="730.4" x2="341.2" y2="879.5" stroke="#1a1a1a" stroke-width="1.75"/>
<line x1="336.2" y1="878.6" x2="341.2" y2="878.6" stroke="#1a1a1a" stroke-width="1.5"/>
<text x="331.30" y="882.30" font-size="11.4" text-anchor="end" fill="#1a1a1a" textLength="6.66" lengthAdjust="spacingAndGlyphs">0</text>
<line x1="336.2" y1="842.7" x2="341.2" y2="842.7" stroke="#1a1a1a" stroke-width="1.5"/>
<text x="331.30" y="846.40" font-size="11.4" text-anchor="end" fill="#1a1a1a" textLength="13.31" lengthAdjust="spacingAndGlyphs">50</text>
<line x1="336.2" y1="806.8000000000001" x2="341.2" y2="806.8000000000001" stroke="#1a1a1a" stroke-width="1.5"/>
<text x="331.30" y="810.50" font-size="11.4" text-anchor="end" fill="#1a1a1a" textLength="19.97" lengthAdjust="spacingAndGlyphs">100</text>
<line x1="336.2" y1="770.9000000000001" x2="341.2" y2="770.9000000000001" stroke="#1a1a1a" stroke-width="1.5"/>
<text x="331.30" y="774.60" font-size="11.4" text-anchor="end" fill="#1a1a1a" textLength="19.97" lengthAdjust="spacingAndGlyphs">150</text>
<line x1="336.2" y1="735.0" x2="341.2" y2="735.0" stroke="#1a1a1a" stroke-width="1.5"/>
<text x="331.30" y="738.70" font-size="11.4" text-anchor="end" fill="#1a1a1a" textLength="19.97" lengthAdjust="spacingAndGlyphs">200</text>
<line x1="336.2" y1="878.6" x2="510" y2="878.6" stroke="#1a1a1a" stroke-width="1.75"/>
<line x1="367.0" y1="878.6" x2="367.0" y2="883.2" stroke="#1a1a1a" stroke-width="1.3"/>
<line x1="405.7" y1="878.6" x2="405.7" y2="883.2" stroke="#1a1a1a" stroke-width="1.3"/>
<line x1="444.3" y1="878.6" x2="444.3" y2="883.2" stroke="#1a1a1a" stroke-width="1.3"/>
<line x1="483.0" y1="878.6" x2="483.0" y2="883.2" stroke="#1a1a1a" stroke-width="1.3"/>
<line x1="354.2" y1="806.5" x2="379.8" y2="806.5" stroke="#333" stroke-width="1.7"/>
<line x1="392.9" y1="861.3" x2="418.5" y2="861.3" stroke="#333" stroke-width="1.7"/>
<line x1="431.5" y1="806.6" x2="457.1" y2="806.6" stroke="#333" stroke-width="1.7"/>
<line x1="470.2" y1="858.5" x2="495.8" y2="858.5" stroke="#333" stroke-width="1.7"/>
<circle cx="367" cy="773.4" r="2.5" fill="none" stroke="#1c3c60" stroke-width="1.15"/>
<circle cx="367" cy="796.5" r="2.5" fill="none" stroke="#1c3c60" stroke-width="1.15"/>
<circle cx="367" cy="804.6" r="2.5" fill="none" stroke="#1c3c60" stroke-width="1.15"/>
<circle cx="367" cy="809.2" r="2.5" fill="none" stroke="#1c3c60" stroke-width="1.15"/>
<circle cx="356.5" cy="811.8" r="2.5" fill="none" stroke="#1c3c60" stroke-width="1.15"/>
<circle cx="377.3" cy="811.1" r="2.5" fill="none" stroke="#1c3c60" stroke-width="1.15"/>
<circle cx="394.8" cy="860.8" r="2.5" fill="none" stroke="#1c3c60" stroke-width="1.15"/>
<circle cx="394.8" cy="866.9" r="2.5" fill="none" stroke="#1c3c60" stroke-width="1.15"/>
<circle cx="402.5" cy="859.2" r="2.5" fill="none" stroke="#1c3c60" stroke-width="1.15"/>
<circle cx="409.5" cy="860" r="2.5" fill="none" stroke="#1c3c60" stroke-width="1.15"/>
<circle cx="409.5" cy="866.2" r="2.5" fill="none" stroke="#1c3c60" stroke-width="1.15"/>
<circle cx="416.4" cy="862.3" r="2.5" fill="none" stroke="#1c3c60" stroke-width="1.15"/>
<circle cx="449.3" cy="792" r="2.5" fill="none" stroke="#961b3a" stroke-width="1.15"/>
<circle cx="439.6" cy="795.4" r="2.5" fill="none" stroke="#961b3a" stroke-width="1.15"/>
<circle cx="444.2" cy="802.6" r="2.5" fill="none" stroke="#961b3a" stroke-width="1.15"/>
<circle cx="439.6" cy="811.1" r="2.5" fill="none" stroke="#961b3a" stroke-width="1.15"/>
<circle cx="449.3" cy="811.5" r="2.5" fill="none" stroke="#961b3a" stroke-width="1.15"/>
<circle cx="444.2" cy="825.4" r="2.5" fill="none" stroke="#961b3a" stroke-width="1.15"/>
<circle cx="472.7" cy="856.9" r="2.5" fill="none" stroke="#961b3a" stroke-width="1.15"/>
<circle cx="472.7" cy="862.1" r="2.5" fill="none" stroke="#961b3a" stroke-width="1.15"/>
<circle cx="483.1" cy="858.5" r="2.5" fill="none" stroke="#961b3a" stroke-width="1.15"/>
<circle cx="493.6" cy="852.7" r="2.5" fill="none" stroke="#961b3a" stroke-width="1.15"/>
<circle cx="493.6" cy="860.4" r="2.5" fill="none" stroke="#961b3a" stroke-width="1.15"/>
<path d="M367.0,738.8000000000001 V733.2 H405.7 V738.8000000000001" fill="none" stroke="#1a1a1a" stroke-width="1.3" stroke-linejoin="miter" stroke-linecap="butt"/>
<text x="386.90000000000003" y="732.5" font-size="10" text-anchor="middle" fill="#1a1a1a" stroke="#1a1a1a" stroke-width="0.25" letter-spacing="1.1">**</text>
<path d="M444.3,738.8000000000001 V733.2 H483.0 V738.8000000000001" fill="none" stroke="#1a1a1a" stroke-width="1.3" stroke-linejoin="miter" stroke-linecap="butt"/>
<text x="464.2" y="732.5" font-size="10" text-anchor="middle" fill="#1a1a1a" stroke="#1a1a1a" stroke-width="0.25" letter-spacing="1.1">**</text>
<text x="371.9" y="892.3000000000001" font-size="12.1" text-anchor="end" fill="#1a1a1a" transform="rotate(-45 371.9 892.3000000000001)">si<tspan font-style="italic">Ctrl.B6</tspan></text>
<text x="410.59999999999997" y="892.3000000000001" font-size="12.1" text-anchor="end" fill="#1a1a1a" transform="rotate(-45 410.59999999999997 892.3000000000001)">si<tspan font-style="italic">Vwf.B6</tspan></text>
<text x="449.2" y="891.6" font-size="12.5" text-anchor="end" fill="#1a1a1a" transform="rotate(-45 449.2 891.6)">si<tspan font-style="italic">Ctrl</tspan>.129S</text>
<text x="487.9" y="891.6" font-size="12.5" text-anchor="end" fill="#1a1a1a" transform="rotate(-45 487.9 891.6)">si<tspan font-style="italic">Vwf</tspan>.129S</text>
<g transform="translate(301.8 874.3) rotate(-90)" fill="#1a1a1a"><text x="0.00" y="0" font-size="13.4" textLength="21.74" lengthAdjust="spacingAndGlyphs" stroke="#1a1a1a" stroke-width="0.5">VWF</text><text x="25.64" y="0" font-size="13.4" textLength="15.22" lengthAdjust="spacingAndGlyphs" stroke="#1a1a1a" stroke-width="0.5">(%)</text><text x="44.76" y="0" font-size="13.4" textLength="8.16" lengthAdjust="spacingAndGlyphs" stroke="#1a1a1a" stroke-width="0.5">of</text><text x="56.42" y="0" font-size="13.4" textLength="7.07" lengthAdjust="spacingAndGlyphs" stroke="#1a1a1a" stroke-width="0.5">si</text><text x="65.89" y="0" font-size="13.4" font-style="italic" textLength="71.81" lengthAdjust="spacingAndGlyphs" stroke="#1a1a1a" stroke-width="0.5">Control.B6/129S</text></g>
<g fill="#1a1a1a"><text x="212.85" y="954.7" font-size="13.3" textLength="26.60" lengthAdjust="spacingAndGlyphs" stroke="#1a1a1a" stroke-width="0.5">siRNA</text><text x="243.35" y="954.7" font-size="13.3" textLength="42.90" lengthAdjust="spacingAndGlyphs" stroke="#1a1a1a" stroke-width="0.5">treatment</text><text x="290.45" y="954.7" font-size="13.3" textLength="19.00" lengthAdjust="spacingAndGlyphs" stroke="#1a1a1a" stroke-width="0.5">(1.5</text><text x="311.95" y="954.7" font-size="13.3" textLength="32.20" lengthAdjust="spacingAndGlyphs" stroke="#1a1a1a" stroke-width="0.5">mg/kg)</text></g>
</svg>
</body></html>
